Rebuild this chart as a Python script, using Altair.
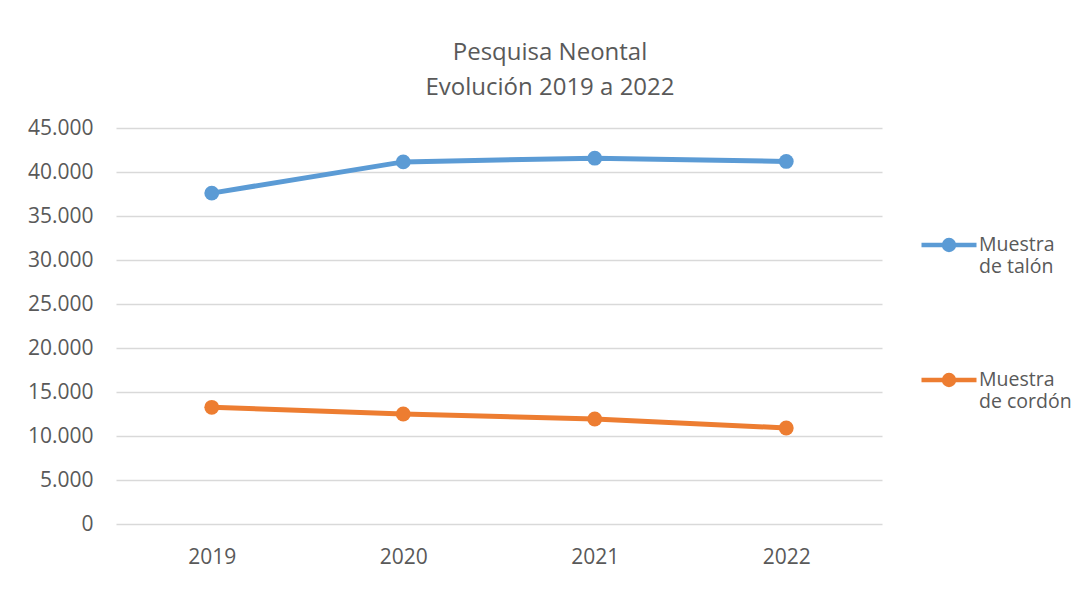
import altair as alt
import pandas as pd

years = ["2019", "2020", "2021", "2022"]
series_names = ["Muestra de talón", "Muestra de cordón"]
talon = [37600, 41150, 41570, 41200]
cordon = [13260, 12500, 11930, 10910]
y_ticks = [0, 5000, 10000, 15000, 20000, 25000, 30000, 35000, 40000, 45000]
colors = ["#5B9BD5", "#ED7D31"]

rows = []
for name, vals in zip(series_names, [talon, cordon]):
    for yr, v in zip(years, vals):
        rows.append({"Año": yr, "Serie": name, "Valor": v})
df = pd.DataFrame(rows)

FONT = "Open Sans"
TXT = "#595959"

r = 0.18
sh = 0
sym_path = (
    f"M-1,{sh}L1,{sh}"
    f"M{r},{sh}A{r},{r},0,1,1,{-r},{sh}A{r},{r},0,1,1,{r},{sh}Z"
)

x_enc = alt.X(
    "Año:O",
    sort=years,
    scale=alt.Scale(type="point", padding=0.5),
    axis=alt.Axis(
        title=None, labelAngle=0, ticks=False, domain=False,
        labelPadding=22, labelFontSize=21, labelColor=TXT, labelFont=FONT,
    ),
)
y_enc = alt.Y(
    "Valor:Q",
    scale=alt.Scale(domain=[0, 45000], nice=False),
    axis=alt.Axis(
        title=None, values=y_ticks, domain=False, ticks=False,
        labelExpr="replace(format(datum.value, ','), ',', '.')",
        gridColor="#d9d9d9", gridWidth=1.3,
        labelPadding=23, labelFontSize=21, labelColor=TXT, labelFont=FONT,
    ),
)
color_enc = alt.Color(
    "Serie:N",
    sort=series_names,
    scale=alt.Scale(domain=series_names, range=colors),
    legend=alt.Legend(
        title=None, orient="none", legendX=803, legendY=87,
        direction="vertical", padding=0, rowPadding=74,
        symbolType=sym_path, symbolSize=3025, symbolStrokeWidth=4.5,
        labelFontSize=19.5, labelColor=TXT, labelFont=FONT, labelOffset=0,
        labelExpr="[substring(datum.label, 0, 7), substring(datum.label, 8)]",
        labelLimit=300,
    ),
)

lines = alt.Chart(df).mark_line(strokeWidth=5).encode(x=x_enc, y=y_enc, color=color_enc)
points = alt.Chart(df).mark_point(filled=True, shape="circle", size=220, opacity=1).encode(
    x=x_enc, y=y_enc, color=color_enc
)

chart = (
    alt.layer(lines, points)
    .properties(
        width=766,
        height=396,
        title=alt.TitleParams(
            text=["Pesquisa Neontal", "Evolución 2019 a 2022"],
            fontSize=24, font=FONT, color=TXT, fontWeight="normal",
            lineHeight=35, anchor="middle", dx=51, offset=17,
        ),
        autosize=alt.AutoSizeParams(type="none"),
        padding={"left": 108, "top": 120, "right": 190, "bottom": 70},
    )
    .configure_view(stroke=None)
)

chart.save("out.html", embed_options={"renderer": "svg", "actions": False})
